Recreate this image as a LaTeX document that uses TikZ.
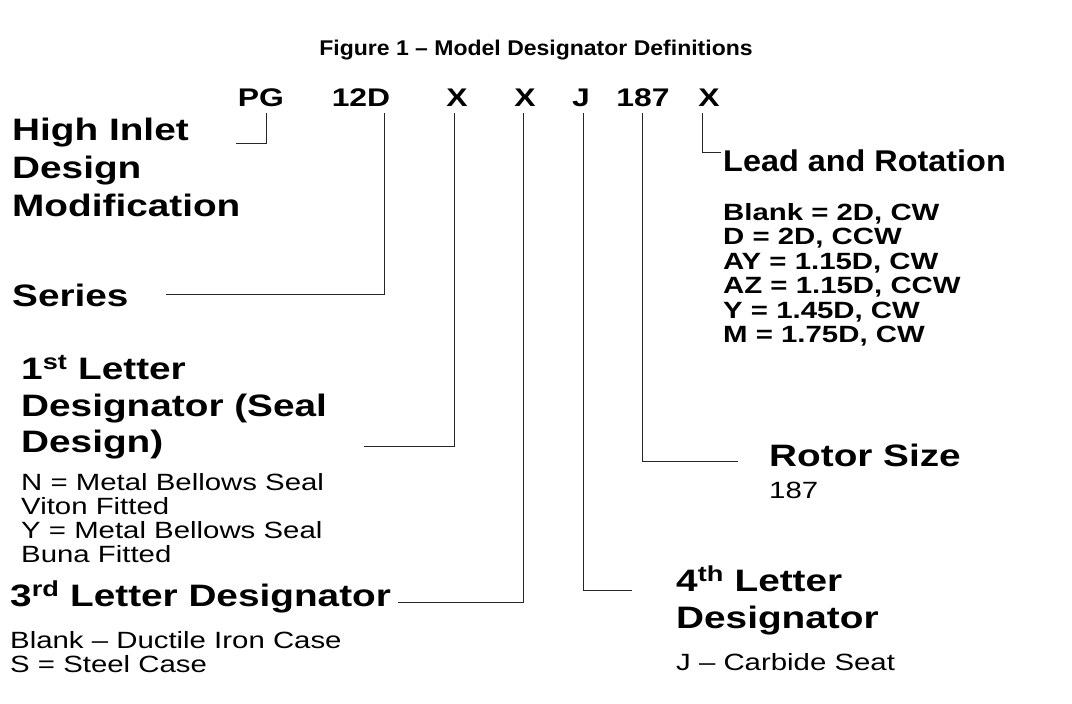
\documentclass[tikz,border=0pt]{standalone}
\usepackage{fontspec}
\setmainfont{Liberation Sans}[FakeStretch=1.25]
\newfontfamily\narrowfont{Liberation Sans}[FakeStretch=1.08]
\begin{document}
\begin{tikzpicture}[x=1pt,y=-1pt,
  lbl/.style={inner sep=0pt,anchor=base west,font=\bfseries\fontsize{31}{36}\selectfont},
  code/.style={inner sep=0pt,anchor=base,font=\bfseries\fontsize{25.5}{30}\selectfont},
  lst/.style={inner sep=0pt,anchor=base west,font=\bfseries\fontsize{23.5}{26}\selectfont},
  reg/.style={inner sep=0pt,anchor=base west,font=\fontsize{23.5}{28}\selectfont},
  conn/.style={draw=black!85,line width=0.9pt}]
\useasboundingbox (0,0) rectangle (1072,704);
% title
\node[inner sep=0pt,anchor=base,font=\narrowfont\bfseries\fontsize{21.3}{25}\selectfont] (title) at (536,56) {Figure 1 – Model Designator Definitions};
% code row
\node[code] (pg) at (261,106) {PG};
\node[code] (ser) at (361,106) {12D};
\node[code] (x1) at (457,106) {X};
\node[code] (x2) at (525,106) {X};
\node[code] (j) at (581,106) {J};
\node[code] (rs) at (643,106) {187};
\node[code] (x3) at (709,106) {X};
% High inlet
\node[lbl] (hi1) at (12,140) {High Inlet};
\node[lbl] (hi2) at (12,178) {Design};
\node[lbl] (hi3) at (12,216) {Modification};
% Series
\node[lbl] (se) at (12,306) {Series};
% 1st letter
\node[lbl] (fl1) at (21,379) {1\textsuperscript{st} Letter};
\node[lbl] (fl2) at (21,416) {Designator (Seal};
\node[lbl] (fl3) at (21,452) {Design)};
\node[reg] (fa) at (21,490) {N = Metal Bellows Seal};
\node[reg] (fb) at (21,514) {Viton Fitted};
\node[reg] (fc) at (21,538) {Y = Metal Bellows Seal};
\node[reg] (fd) at (21,562) {Buna Fitted};
% 3rd letter
\node[lbl] (tl) at (10,606) {3\textsuperscript{rd} Letter Designator};
\node[reg] (ta) at (10,648) {Blank – Ductile Iron Case};
\node[reg] (tb) at (10,672) {S = Steel Case};
% 4th letter
\node[lbl] (ql1) at (676,591) {4\textsuperscript{th} Letter};
\node[lbl] (ql2) at (676,628) {Designator};
\node[reg] (qa) at (676,670) {J – Carbide Seat};
% rotor size
\node[lbl] (ro) at (769,466) {Rotor Size};
\node[reg] (roa) at (769,498) {187};
% lead and rotation
\node[lbl,font=\narrowfont\bfseries\fontsize{30}{35}\selectfont] (le) at (723,171) {Lead and Rotation};
\node[lst] (l1) at (723,220) {Blank = 2D, CW};
\node[lst] (l2) at (723,244.5) {D = 2D, CCW};
\node[lst] (l3) at (723,269) {AY = 1.15D, CW};
\node[lst] (l4) at (723,293.5) {AZ = 1.15D, CCW};
\node[lst] (l5) at (723,318) {Y = 1.45D, CW};
\node[lst] (l6) at (723,342.5) {M = 1.75D, CW};
% connector coordinates
\coordinate (pgS) at (266,113);   \coordinate (pgE) at (236,143);
\coordinate (serS) at (384,113);  \coordinate (serE) at (166,294);
\coordinate (x1S) at (454,113);   \coordinate (x1E) at (364,446);
\coordinate (x2S) at (523,113);   \coordinate (x2E) at (398,602);
\coordinate (jS) at (583,113);    \coordinate (jE) at (632,590);
\coordinate (rsS) at (642,113);   \coordinate (rsE) at (738,461);
\coordinate (x3S) at (702,113);   \coordinate (x3E) at (721,152);
\draw[conn] (pgS) |- (pgE);
\draw[conn] (serS) |- (serE);
\draw[conn] (x1S) |- (x1E);
\draw[conn] (x2S) |- (x2E);
\draw[conn] (jS) |- (jE);
\draw[conn] (rsS) |- (rsE);
\draw[conn] (x3S) |- (x3E);
\end{tikzpicture}
\end{document}
